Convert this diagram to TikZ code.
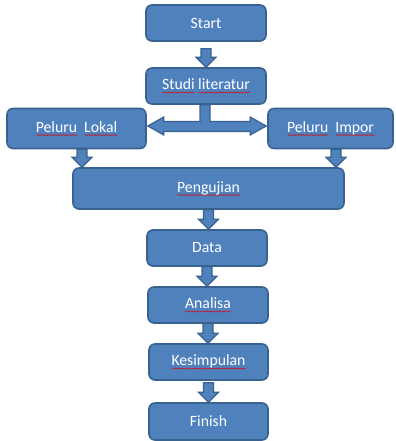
\documentclass[tikz,border=0pt]{standalone}
\usepackage{fontspec}
\setmainfont{Carlito}
\usetikzlibrary{calc,decorations.pathmorphing}

\definecolor{boxblue}{HTML}{4F81BD}
\definecolor{boxline}{HTML}{3A6290}

% red wavy line under a word
\newsavebox{\spellbox}
\newlength{\spellwd}
\newcommand{\spell}[1]{\sbox{\spellbox}{#1}\setlength{\spellwd}{\wd\spellbox}%
  \rlap{\tikz[baseline=0pt]\draw[draw=red!90!black, fill=none, sharp corners,
    line width=0.35pt, decorate,
    decoration={snake, amplitude=0.4pt, segment length=2.2pt}]
    (0pt,-2.2pt) -- (\spellwd,-2.2pt);}\usebox{\spellbox}}

% block arrow pointing down, from #1 to the top of #2
\newcommand{\vblock}[2]{%
  \filldraw[blockarrow] let \p1=(#1), \p2=(#2) in
    (\x1-3.75pt,\y1) -- (\x1+3.75pt,\y1) -- (\x1+3.75pt,\y2+7.5pt)
    -- (\x1+7.5pt,\y2+7.5pt) -- (\x1,\y2) -- (\x1-7.5pt,\y2+7.5pt)
    -- (\x1-3.75pt,\y2+7.5pt) -- cycle;}

\begin{document}
\begin{tikzpicture}[x=0.75pt,y=-0.75pt,
  box/.style={draw=boxline, fill=boxblue, line width=1.2pt, rounded corners=4.5pt,
    text=white, inner sep=0pt, font=\fontsize{11.8}{13}\selectfont},
  blockarrow/.style={draw=boxline, fill=boxblue, line width=0.9pt, line join=miter}]
\useasboundingbox (0,0) rectangle (395,441);

%boxes
  \node[box, minimum width=90pt, minimum height=27pt] (Start) at (206,23) {Start};
  \node[box, minimum width=90pt, minimum height=27pt] (Studi) at (206,86)
     {\spell{Studi}\ \spell{literatur}};
  \node[box, minimum width=104.25pt, minimum height=30pt] (Lokal) at (76.5,128.5)
     {\spell{Peluru}\ \ \spell{Lokal}};
  \node[box, minimum width=93.75pt, minimum height=30pt] (Impor) at (330.5,128.5)
     {\spell{Peluru}\ \ \spell{Impor}};
  \node[box, minimum width=203.25pt, minimum height=30.75pt] (Uji) at (208.5,188.5)
     {\spell{Pengujian}};
  \node[box, minimum width=90pt, minimum height=27pt] (Data) at (207,248) {Data};
  \node[box, minimum width=90pt, minimum height=27pt] (Analisa) at (208,305)
     {\spell{Analisa}};
  \node[box, minimum width=89.25pt, minimum height=27pt] (Kesimpulan) at (208.5,362)
     {\spell{Kesimpulan}};
  \node[box, minimum width=89.25pt, minimum height=27.75pt] (Finish) at (208.5,421.5)
     {Finish};

%arrows
  \vblock{$(Start.south)+(0,7)$}{Studi.north}
  \vblock{$(Lokal.south)+(5.5,0)$}{Uji.north}
  \vblock{$(Impor.south)+(5.5,0)$}{Uji.north}
  \vblock{Uji.south}{Data.north}
  \vblock{Data.south}{Analisa.north}
  \vblock{Analisa.south}{Kesimpulan.north}
  \vblock{$(Kesimpulan.south)+(0,2)$}{Finish.north}

%double arrow
  \filldraw[blockarrow] let \p1=(Studi.south), \p2=(Lokal.east), \p3=(Impor.west) in
    (\x1-4.5pt,\y1) -- (\x1+3pt,\y1) -- (\x1+3pt,\y2+5.25pt)
    -- (\x3-12.75pt,\y2+5.25pt) -- (\x3-12.75pt,\y2+8.625pt) -- (\x3-0.75pt,\y2+1.875pt)
    -- (\x3-12.75pt,\y2-4.875pt) -- (\x3-12.75pt,\y2-2.25pt)
    -- (\x2+12.75pt,\y2-2.25pt) -- (\x2+12.75pt,\y2-4.875pt) -- (\x2+0.75pt,\y2+1.875pt)
    -- (\x2+12.75pt,\y2+8.625pt) -- (\x2+12.75pt,\y2+5.25pt)
    -- (\x1-4.5pt,\y2+5.25pt) -- cycle;
\end{tikzpicture}
\end{document}
